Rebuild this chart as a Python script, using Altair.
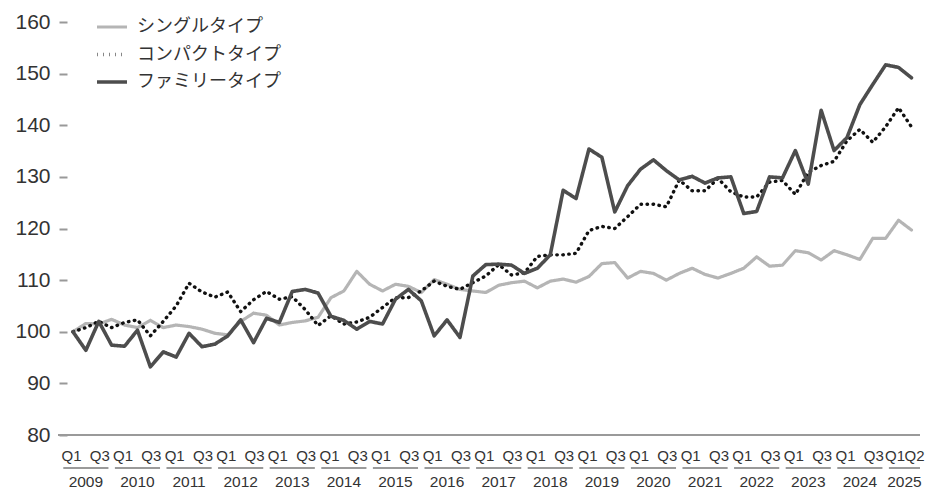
import altair as alt
import pandas as pd

# ---- data (quarterly index, 2009 Q1 = 100) ----
series_names = ["シングルタイプ", "コンパクトタイプ", "ファミリータイプ"]
year_labels = [str(y) for y in range(2009, 2026)]

single = [100.0, 101.6, 101.5, 102.4, 101.3, 100.8, 102.2, 100.8,
          101.3, 101.0, 100.5, 99.7, 99.4, 102.0, 103.6, 103.2,
          101.3, 101.8, 102.1, 102.8, 106.6, 107.9, 111.7, 109.2,
          107.9, 109.2, 108.8, 107.6, 110.1, 109.2, 108.2, 107.9,
          107.6, 109.0, 109.5, 109.8, 108.5, 109.8, 110.2, 109.6,
          110.7, 113.2, 113.4, 110.4, 111.7, 111.3, 110.0, 111.3,
          112.3, 111.1, 110.4, 111.3, 112.3, 114.5, 112.7, 112.9,
          115.7, 115.3, 113.9, 115.7, 114.9, 114.0, 118.1, 118.1,
          121.6, 119.7]

compact = [100.0, 100.8, 102.0, 100.8, 101.8, 102.3, 99.2, 102.0,
           105.0, 109.4, 107.7, 106.7, 107.7, 103.9, 106.2, 107.8,
           106.3, 106.8, 104.3, 101.2, 103.1, 101.5, 101.9, 102.8,
           104.7, 106.6, 106.6, 107.9, 109.8, 108.8, 108.2, 109.5,
           110.8, 113.0, 111.0, 111.4, 114.6, 114.9, 114.9, 115.2,
           119.6, 120.4, 120.0, 122.3, 124.7, 124.7, 124.2, 129.4,
           127.3, 127.3, 129.7, 127.1, 126.1, 126.1, 129.0, 129.3,
           126.6, 130.9, 132.2, 133.0, 137.0, 139.2, 136.7, 139.7,
           143.4, 139.7]

family = [100.0, 96.4, 102.0, 97.4, 97.2, 100.3, 93.2, 96.1,
          95.1, 99.7, 97.1, 97.6, 99.2, 102.3, 97.9, 102.6,
          101.8, 107.8, 108.2, 107.5, 103.0, 102.2, 100.5, 102.0,
          101.5, 106.3, 108.2, 106.0, 99.2, 102.3, 98.9, 110.8,
          113.0, 113.1, 112.9, 111.3, 112.3, 114.9, 127.4, 125.8,
          135.4, 133.8, 123.2, 128.3, 131.5, 133.3, 131.2, 129.4,
          130.1, 128.8, 129.8, 130.0, 122.9, 123.3, 130.0, 129.8,
          135.1, 128.6, 142.9, 135.1, 137.6, 144.0, 147.9, 151.7,
          151.2, 149.2]

n = len(single)
rows = []
for name, vals in zip(series_names, [single, compact, family]):
    for i, v in enumerate(vals):
        rows.append({"t": i, "series": name, "value": v})
df = pd.DataFrame(rows)

# quarter tick labels: Q1 and Q3 each year, Q1 and Q2 for the last (partial) year
last_k = len(year_labels) - 1
q_rows = []
for i in range(n):
    q = i % 4 + 1
    last_year = (i // 4) == last_k
    if q in (1, 3) or (last_year and q == 2):
        grp = "Q1last" if (last_year and q == 1) else f"Q{q}"
        q_rows.append({"t": i, "grp": grp, "label": f"Q{q}"})
df_q = pd.DataFrame(q_rows)

W, H = 853, 413
PX = 12.9
XMIN = -1.16 + 9 / PX          # plot starts right of the y ticks
XMAX = XMIN + W / PX
BASE_START = -1.16             # baseline begins left of the plot edge

# year groups
y_rows = []
for k, yl in enumerate(year_labels):
    s = 4 * k - 0.75
    e = min(4 * k + 2.75, XMAX)
    y_rows.append({"s": s, "e": e, "m": (s + e) / 2, "year": yl})
df_y = pd.DataFrame(y_rows)

FONT = "Liberation Sans"
NARROW = "Liberation Sans Narrow, Liberation Sans"
JP = "Noto Sans CJK JP"

xscale = alt.Scale(domain=[XMIN, XMAX], nice=False, zero=False)
noaxis = alt.Axis(labels=False, ticks=False, grid=False, title=None, domain=False)

legend_cfg = dict(title=None, orient="none", legendX=28, legendY=-12,
                  symbolType="stroke", symbolSize=900,
                  symbolStrokeWidth=3.2, labelFont=JP, labelFontSize=18,
                  labelColor="#333333", labelOffset=8,
                  rowPadding=1.5, padding=0)

lines = alt.Chart(df).mark_line(strokeCap="round", strokeJoin="round").encode(
    x=alt.X("t:Q", scale=xscale, axis=noaxis),
    y=alt.Y("value:Q",
            scale=alt.Scale(domain=[80, 160], nice=False, zero=False),
            axis=alt.Axis(values=list(range(80, 161, 10)), grid=False, domain=False,
                          title=None, ticks=True, tickSize=8, tickColor="#999999",
                          tickWidth=2, labelPadding=9, labelFontSize=21,
                          labelFont=FONT, labelColor="#333333")),
    color=alt.Color("series:N",
                    scale=alt.Scale(domain=series_names,
                                    range=["#b5b5b5", "#111111", "#4d4d4d"]),
                    legend=alt.Legend(**legend_cfg)),
    strokeDash=alt.StrokeDash("series:N",
                              scale=alt.Scale(domain=series_names,
                                              range=[[1, 0], [0.5, 5.5], [1, 0]]),
                              legend=alt.Legend(**legend_cfg)),
    strokeWidth=alt.StrokeWidth("series:N",
                                scale=alt.Scale(domain=series_names,
                                                range=[3.2, 3.6, 3.4]),
                                legend=None),
)

baseline = alt.Chart(pd.DataFrame({"s": [BASE_START], "e": [XMAX], "v": [80]})).mark_rule(
    color="#9a9a9a", strokeWidth=2, clip=False).encode(
    x=alt.X("s:Q", scale=xscale, axis=noaxis),
    x2="e:Q",
    y=alt.Y("v:Q"),
)

def qlayer(grp, dx):
    return alt.Chart(df_q).transform_filter(alt.datum.grp == grp).mark_text(
        font=NARROW, fontSize=15, color="#333333", baseline="middle",
        align="center", dx=dx).encode(
        x=alt.X("t:Q", scale=xscale, axis=noaxis),
        y=alt.value(H + 21),
        text="label:N",
    )

underlines = alt.Chart(df_y).mark_rule(color="#9a9a9a", strokeWidth=2).encode(
    x=alt.X("s:Q", scale=xscale, axis=noaxis),
    x2="e:Q",
    y=alt.value(H + 33),
)

ylabels = alt.Chart(df_y).mark_text(font=NARROW, fontSize=15.5, color="#333333",
                                    baseline="middle", align="center").encode(
    x=alt.X("m:Q", scale=xscale, axis=noaxis),
    y=alt.value(H + 47),
    text="year:N",
)

chart = alt.layer(baseline, lines, qlayer("Q1", -1.5), qlayer("Q3", 1),
                  qlayer("Q1last", -3.5), qlayer("Q2", 3),
                  underlines, ylabels).properties(
    width=W, height=H,
    autosize=alt.AutoSizeParams(type="none"),
    padding={"left": 59, "right": 5, "top": 14, "bottom": 56},
    background="white",
).configure_view(stroke=None)

chart.save("out.html", embed_options={"renderer": "svg", "actions": False})
